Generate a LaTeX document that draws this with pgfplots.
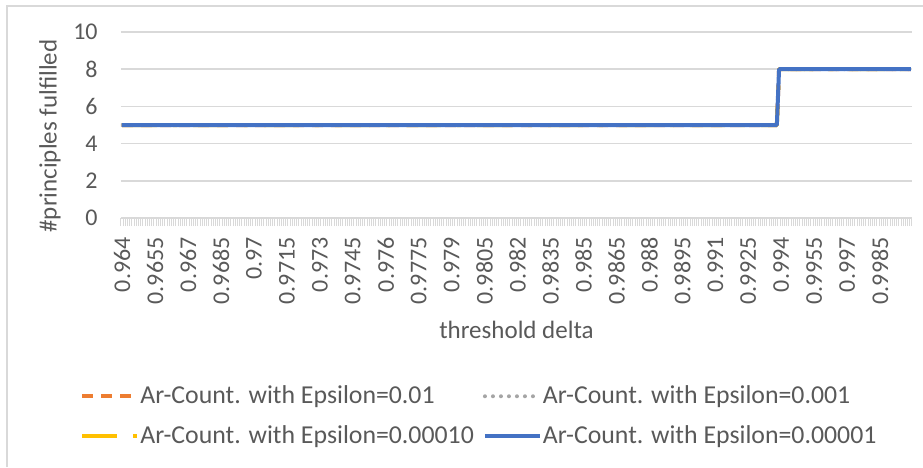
\documentclass[border=0pt]{standalone}
\usepackage{fontspec}
\setmainfont{Carlito}
\usepackage{pgfplots}
\usepackage{pgfplotstable}
\pgfplotsset{compat=1.18}

\definecolor{exblue}{HTML}{4472C4}
\definecolor{exorange}{HTML}{ED7D31}
\definecolor{exgray}{HTML}{A5A5A5}
\definecolor{exyellow}{HTML}{FFC000}
\definecolor{gridgray}{HTML}{D9D9D9}
\definecolor{textgray}{HTML}{595959}

% count of principles fulfilled, per threshold delta (categories 0.9640 ... 0.9999)
\pgfplotstableread{
delta  count
0.9640 5
0.9938 5
0.9939 8
0.9999 8
}\counts

\begin{document}
\begin{tikzpicture}
\path[use as bounding box] (-60.5pt,-124.5pt) rectangle (401pt,109pt);
\draw[gridgray, line width=0.6pt] (-57pt,-124.5pt) -- (-57pt,106pt) -- (401pt,106pt);
\begin{axis}[
    at={(0pt,0pt)}, anchor=south west,
    scale only axis, width=395.5pt, height=93pt,
    xmin=9639.5, xmax=9999.5, ymin=0, ymax=10,
    ytick={0,2,...,10},
    xtick={9640,9655,...,9985},
    xticklabels={0.964,0.9655,0.967,0.9685,0.97,0.9715,0.973,0.9745,0.976,0.9775,0.979,0.9805,
                 0.982,0.9835,0.985,0.9865,0.988,0.9895,0.991,0.9925,0.994,0.9955,0.997,0.9985},
    minor xtick={9639.5,9640.5,...,9999.5},
    tick pos=left,
    tick align=outside,
    major tick length=0pt,
    minor tick length=4pt,
    major tick style={draw=none},
    minor tick style={draw=gridgray, line width=0.5pt},
    axis line style={draw=none},
    ymajorgrids,
    major grid style={gridgray, line width=0.75pt},
    /pgf/number format/assume math mode=true,
    tick label style={font=\fontsize{12}{14}\selectfont, text=textgray},
    xticklabel style={rotate=90, anchor=east, inner sep=0pt},
    xticklabel shift=9.5pt,
    yticklabel style={anchor=east, inner sep=0pt},
    yticklabel shift=11.5pt,
    ylabel={\#principles fulfilled},
    ylabel style={at={(axis description cs:0,0.5)}, anchor=center, yshift=35.5pt, xshift=-5.5pt,
                  font=\fontsize{12.5}{15}\selectfont, text=textgray},
    xlabel={threshold delta},
    xlabel style={at={(axis description cs:0.5,0)}, anchor=center, yshift=-56pt,
                  font=\fontsize{12.5}{14}\selectfont, text=textgray},
    legend columns=2,
    legend cell align=left,
    legend image code/.code={\draw[#1] (0pt,0pt) -- (27.5pt,0pt);},
    legend style={at={(axis description cs:0,0)}, anchor=north west,
                  xshift=-20.5pt, yshift=-81.7pt, draw=none, fill=none, inner sep=0pt,
                  font=\fontsize{12.9}{15}\selectfont, text=textgray, row sep=5.3pt,
                  /tikz/every odd column/.append style={column sep=-1.5pt},
                  /tikz/every even column/.append style={column sep=2.5pt}},
    line join=round,
]
\addplot[exorange, line width=2pt, dash pattern=on 5.5pt off 4pt]
    table[x expr=\thisrow{delta}*10000, y=count] {\counts};
\addlegendentry{Ar-Count. with Epsilon=0.01}
\addplot[exgray, line width=2pt, line cap=round, dash pattern=on 0pt off 4pt]
    table[x expr=\thisrow{delta}*10000, y=count] {\counts};
\addlegendentry{Ar-Count. with Epsilon=0.001}
\addplot[exyellow, line width=2pt, dash pattern=on 17.5pt off 8pt on 2pt off 8pt]
    table[x expr=\thisrow{delta}*10000, y=count] {\counts};
\addlegendentry{Ar-Count. with Epsilon=0.00010}
\addplot[exblue, line width=2pt]
    table[x expr=\thisrow{delta}*10000, y=count] {\counts};
\addlegendentry{Ar-Count. with Epsilon=0.00001}
\end{axis}
\end{tikzpicture}
\end{document}
